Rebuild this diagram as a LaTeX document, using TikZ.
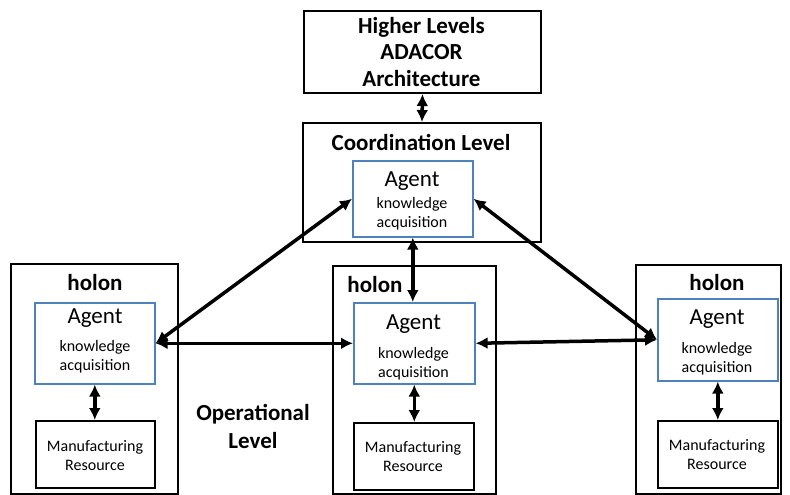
\documentclass[tikz,border=0pt]{standalone}
\usepackage{fontspec}
\setmainfont{Carlito}
\usetikzlibrary{arrows.meta}
\definecolor{agentblue}{RGB}{79,129,189}
\begin{document}
\begin{tikzpicture}[x=1pt,y=-1pt,
  blackbox/.style={draw=black,line width=2pt,inner sep=0pt,anchor=north west},
  agentbox/.style={draw=agentblue,line width=1.6pt,fill=white,inner sep=0pt,anchor=north west},
  title/.style={font=\fontsize{23}{26.5}\selectfont\bfseries,align=center,inner sep=0pt},
  agenttxt/.style={font=\fontsize{23}{27}\selectfont,inner sep=0pt},
  small/.style={font=\fontsize{16}{19}\selectfont,align=center,inner sep=0pt},
  link/.style={line width=3.5pt,{Latex[length=12pt,width=12pt]}-{Latex[length=12pt,width=12pt]}}]
\useasboundingbox (0,0) rectangle (790,495);
\fill[white] (0,0) rectangle (790,495);
% boxes
\node[blackbox,minimum width=237pt,minimum height=82pt] (hl) at (303,10) {};
\node[blackbox,minimum width=238pt,minimum height=119pt] (co) at (302,122) {};
\node[agentbox,minimum width=120pt,minimum height=76pt] (ca) at (352,160) {};
\node[blackbox,minimum width=167pt,minimum height=230pt] (lh) at (10,263) {};
\node[agentbox,minimum width=120pt,minimum height=81pt] (la) at (34,302) {};
\node[blackbox,minimum width=119pt,minimum height=67pt] (lm) at (35,420) {};
\node[blackbox,minimum width=163pt,minimum height=228pt] (mh) at (332,265) {};
\node[agentbox,minimum width=121pt,minimum height=81pt] (ma) at (353,302) {};
\node[blackbox,minimum width=120pt,minimum height=67pt] (mm) at (353,422) {};
\node[blackbox,minimum width=145pt,minimum height=229pt] (rh) at (635,264) {};
\node[agentbox,minimum width=120pt,minimum height=82pt] (ra) at (657,298) {};
\node[blackbox,minimum width=120pt,minimum height=67pt] (rm) at (657,420) {};
% texts
\node[title] (hlt) at (421.5,52) {Higher Levels\\ADACOR\\Architecture};
\node[title] (cot) at (421,142) {Coordination Level};
\node[agenttxt] (cat) at (412,181) {Agent};
\node[small] (cak) at (412,214) {knowledge\\acquisition};
\node[title] (lht) at (95,283) {holon};
\node[agenttxt] (lat) at (95,318) {Agent};
\node[small] (lak) at (95,356.5) {knowledge\\acquisition};
\node[small] (lmt) at (95,455.5) {Manufacturing\\Resource};
\node[title] (mht) at (375,285) {holon};
\node[agenttxt] (mat) at (413.5,324) {Agent};
\node[small] (mak) at (413.5,363.5) {knowledge\\acquisition};
\node[small] (mmt) at (413,456.5) {Manufacturing\\Resource};
\node[title] (rht) at (717,283) {holon};
\node[agenttxt] (rat) at (717,319) {Agent};
\node[small] (rak) at (717,358.5) {knowledge\\acquisition};
\node[small] (rmt) at (717,454.5) {Manufacturing\\Resource};
\node[title,font=\fontsize{23}{28}\selectfont\bfseries] (op) at (253,426) {Operational\\Level};
% arrows
\draw[link] (hl.south) -- (co.north);
\draw[link] (ca.south) -- (ca.south |- ma.north);
\draw[link] (ca.west) -- (la.east);
\draw[link] (la.east) -- (ma.west);
\draw[link] (ma.east) -- (ra.west);
\draw[link] (ca.east) -- (ra.west);
\draw[link] (la.south) -- (la.south |- lm.north);
\draw[link] (ma.south) -- (ma.south |- mm.north);
\draw[link] (ra.south) -- (ra.south |- rm.north);
\end{tikzpicture}
\end{document}
